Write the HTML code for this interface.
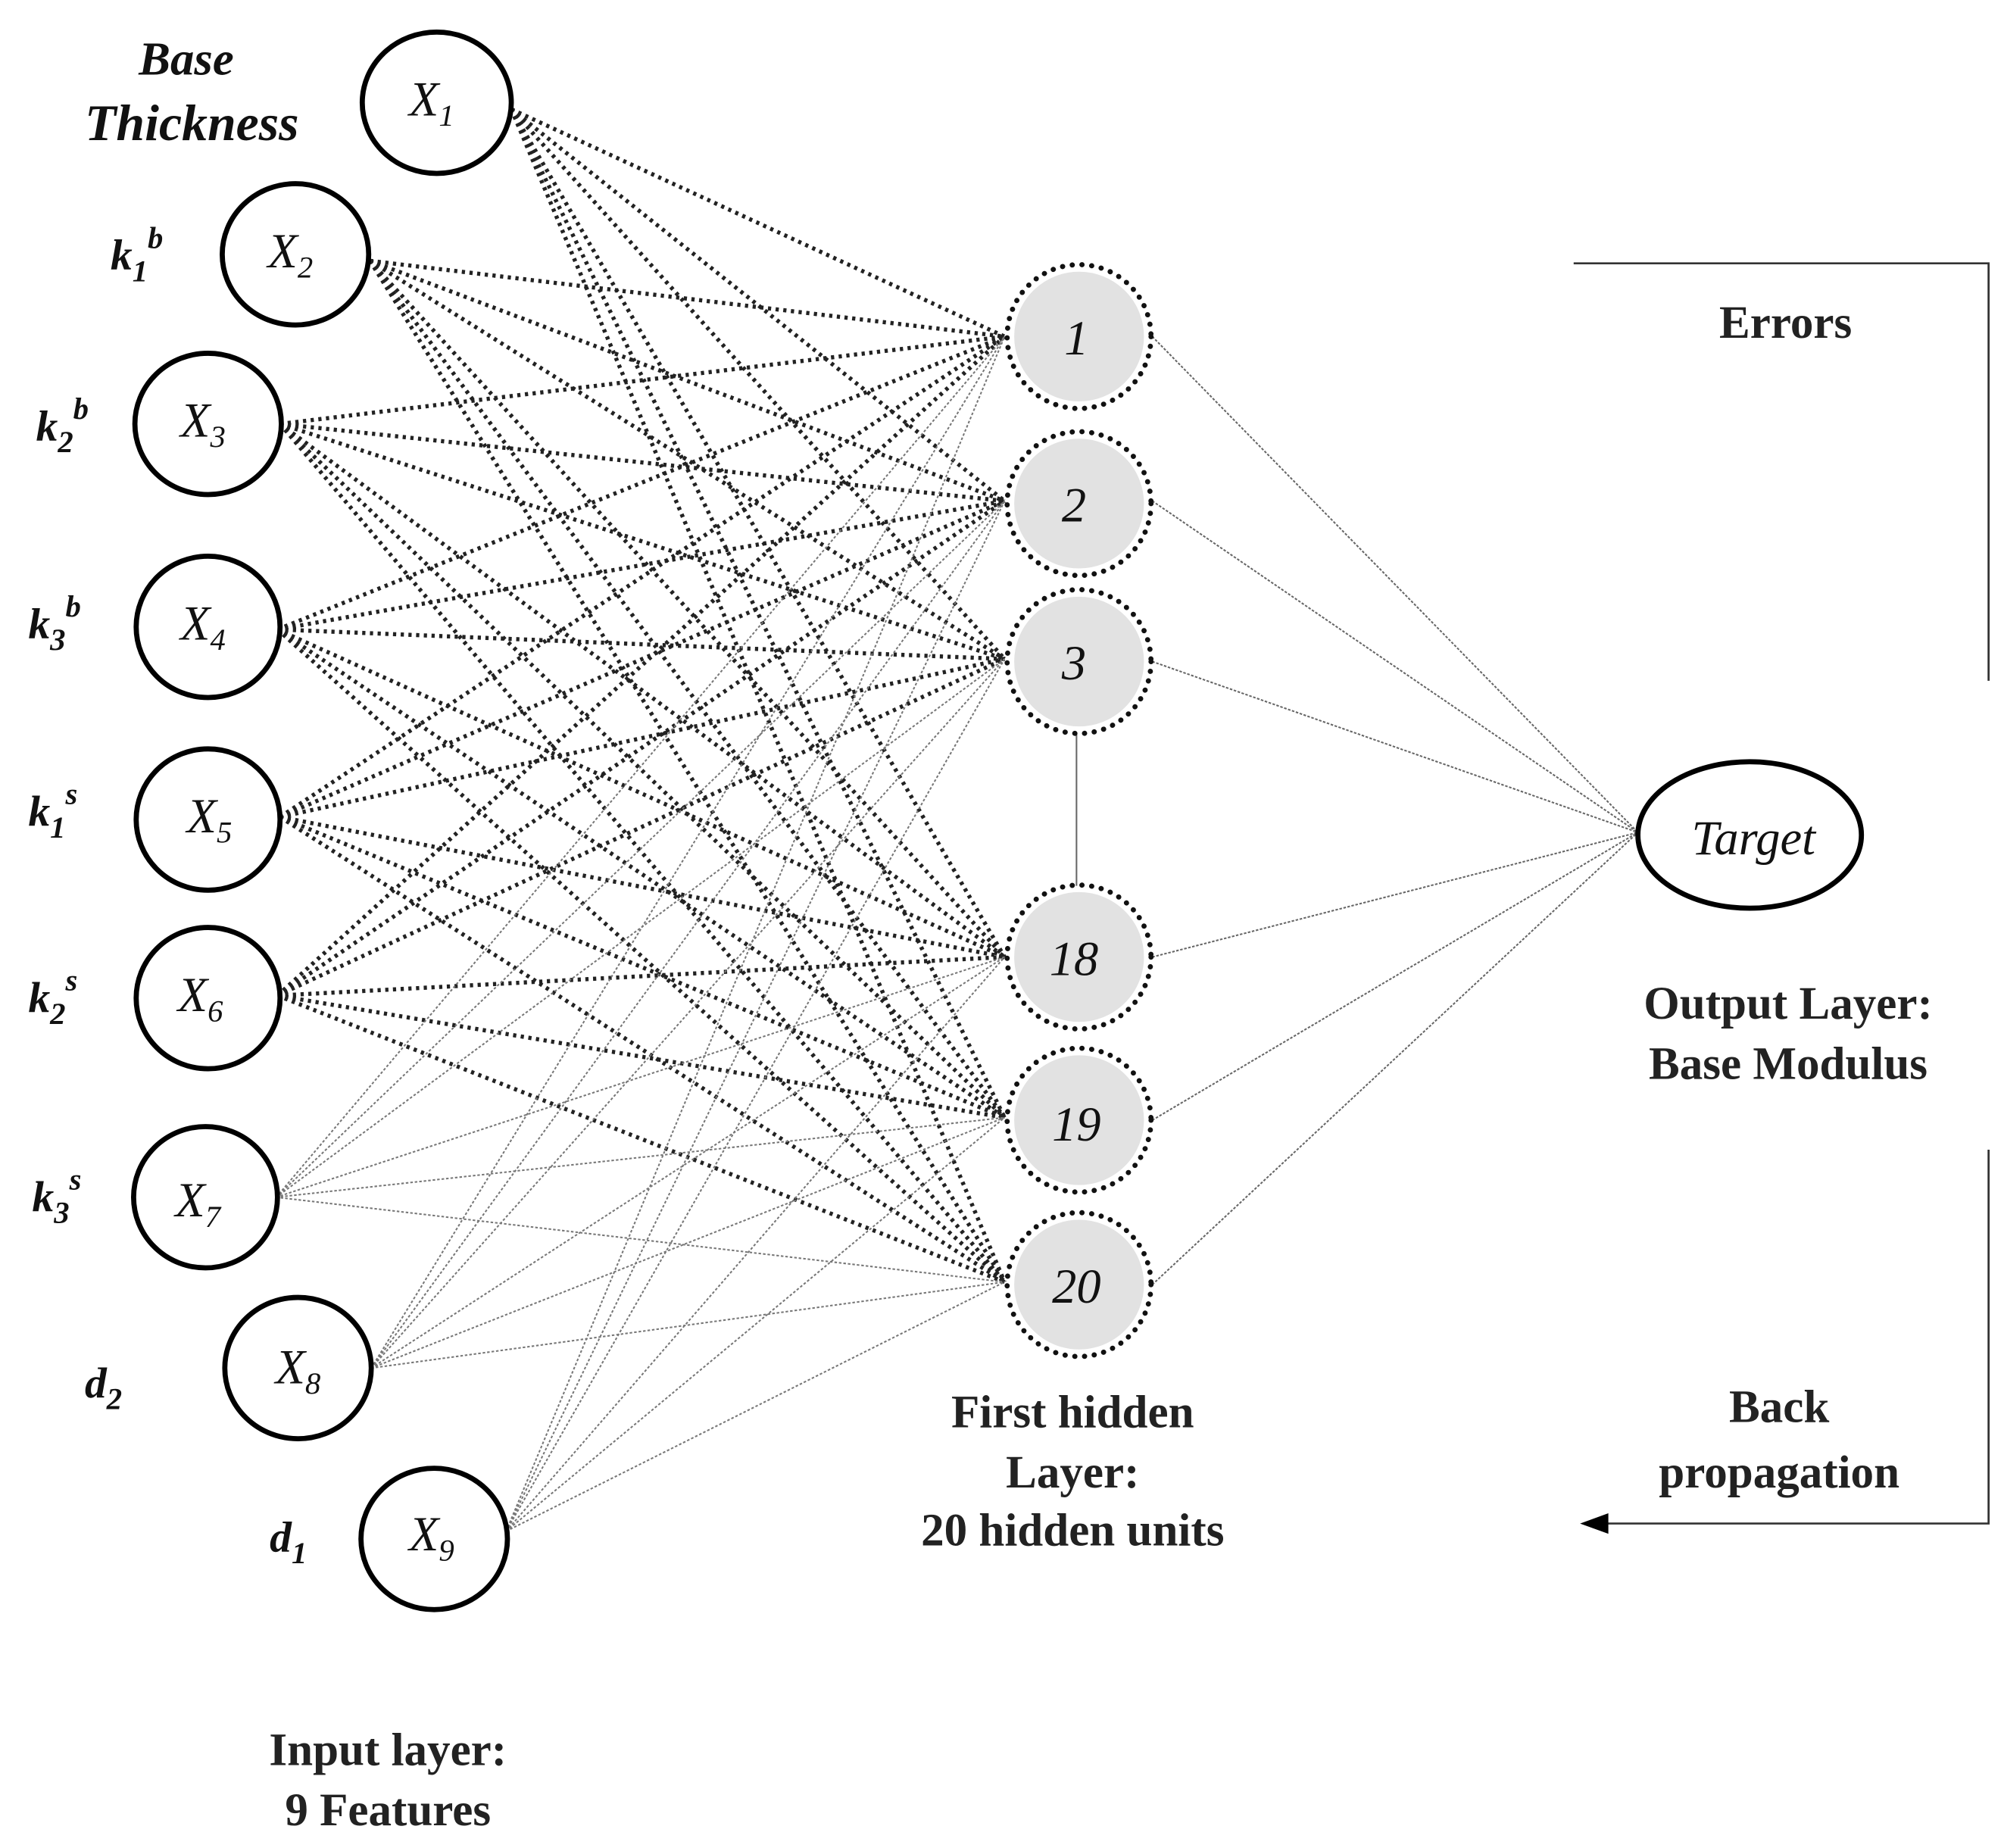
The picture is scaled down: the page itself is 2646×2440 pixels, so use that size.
<!DOCTYPE html>
<html><head><meta charset="utf-8"><style>
html,body{margin:0;padding:0;background:#fff;}
svg{display:block;}
.t{font-family:"Liberation Serif",serif;font-weight:bold;font-size:36px;fill:#222;text-anchor:middle;}
.lab{font-family:"Liberation Serif",serif;font-weight:bold;font-style:italic;font-size:34px;fill:#111;}
.n{font-family:"Liberation Serif",serif;font-style:italic;font-size:38px;fill:#111;text-anchor:middle;}
.thick line{stroke:#222;stroke-width:3.2;stroke-dasharray:2.5 3.5;}
.thin line{stroke:#777;stroke-width:1.2;stroke-dasharray:2 1.5;}
.out line{stroke:#666;stroke-width:1.2;stroke-dasharray:2 1.2;}
.in ellipse{fill:#fff;stroke:#000;stroke-width:4;}
.hid circle{fill:#e2e2e2;stroke:#fff;stroke-width:5;}
.hid circle.b{fill:none;stroke:#111;stroke-width:4;stroke-dasharray:0.1 7.5;stroke-linecap:round;}
</style></head><body>
<svg width="2646" height="2440" viewBox="0 0 1560 1438.6" preserveAspectRatio="none" xmlns="http://www.w3.org/2000/svg">
<g class="thick">
<line x1="398" y1="85" x2="782" y2="262"/><line x1="398" y1="85" x2="782" y2="390"/><line x1="398" y1="85" x2="782" y2="513"/><line x1="398" y1="85" x2="782" y2="745"/><line x1="398" y1="85" x2="782" y2="870"/><line x1="398" y1="85" x2="782" y2="998"/>
<line x1="288" y1="203" x2="782" y2="262"/><line x1="288" y1="203" x2="782" y2="390"/><line x1="288" y1="203" x2="782" y2="513"/><line x1="288" y1="203" x2="782" y2="745"/><line x1="288" y1="203" x2="782" y2="870"/><line x1="288" y1="203" x2="782" y2="998"/>
<line x1="218" y1="330" x2="782" y2="262"/><line x1="218" y1="330" x2="782" y2="390"/><line x1="218" y1="330" x2="782" y2="513"/><line x1="218" y1="330" x2="782" y2="745"/><line x1="218" y1="330" x2="782" y2="870"/><line x1="218" y1="330" x2="782" y2="998"/>
<line x1="216" y1="490" x2="782" y2="262"/><line x1="216" y1="490" x2="782" y2="390"/><line x1="216" y1="490" x2="782" y2="513"/><line x1="216" y1="490" x2="782" y2="745"/><line x1="216" y1="490" x2="782" y2="870"/><line x1="216" y1="490" x2="782" y2="998"/>
<line x1="218" y1="636" x2="782" y2="262"/><line x1="218" y1="636" x2="782" y2="390"/><line x1="218" y1="636" x2="782" y2="513"/><line x1="218" y1="636" x2="782" y2="745"/><line x1="218" y1="636" x2="782" y2="870"/><line x1="218" y1="636" x2="782" y2="998"/>
<line x1="216" y1="775" x2="782" y2="262"/><line x1="216" y1="775" x2="782" y2="390"/><line x1="216" y1="775" x2="782" y2="513"/><line x1="216" y1="775" x2="782" y2="745"/><line x1="216" y1="775" x2="782" y2="870"/><line x1="216" y1="775" x2="782" y2="998"/>
</g>
<g class="thin">
<line x1="215" y1="932" x2="782" y2="262"/><line x1="215" y1="932" x2="782" y2="390"/><line x1="215" y1="932" x2="782" y2="513"/><line x1="215" y1="932" x2="782" y2="745"/><line x1="215" y1="932" x2="782" y2="870"/><line x1="215" y1="932" x2="782" y2="998"/>
<line x1="289" y1="1065" x2="782" y2="262"/><line x1="289" y1="1065" x2="782" y2="390"/><line x1="289" y1="1065" x2="782" y2="513"/><line x1="289" y1="1065" x2="782" y2="745"/><line x1="289" y1="1065" x2="782" y2="870"/><line x1="289" y1="1065" x2="782" y2="998"/>
<line x1="394" y1="1192" x2="782" y2="262"/><line x1="394" y1="1192" x2="782" y2="390"/><line x1="394" y1="1192" x2="782" y2="513"/><line x1="394" y1="1192" x2="782" y2="745"/><line x1="394" y1="1192" x2="782" y2="870"/><line x1="394" y1="1192" x2="782" y2="998"/>
</g>
<g class="out">
<line x1="897" y1="262" x2="1275" y2="648"/><line x1="897" y1="390" x2="1275" y2="648"/><line x1="897" y1="515" x2="1275" y2="648"/><line x1="897" y1="745" x2="1275" y2="648"/><line x1="897" y1="872" x2="1275" y2="648"/><line x1="897" y1="1000" x2="1275" y2="648"/>
<line x1="838" y1="568" x2="838" y2="692" style="stroke-dasharray:none"/>
</g>
<g class="in">
<ellipse cx="340" cy="80" rx="58" ry="55"/><ellipse cx="230" cy="198" rx="57" ry="55"/><ellipse cx="162" cy="330" rx="57" ry="55"/><ellipse cx="162" cy="488" rx="56" ry="55"/><ellipse cx="162" cy="638" rx="56" ry="55"/><ellipse cx="162" cy="777" rx="56" ry="55"/><ellipse cx="160" cy="932" rx="56" ry="55"/><ellipse cx="232" cy="1065" rx="57" ry="55"/><ellipse cx="338" cy="1198" rx="57" ry="55"/>
<ellipse cx="1362" cy="650" rx="87" ry="57"/>
</g>
<g class="hid">
<circle cx="840" cy="262" r="53"/><circle class="b" cx="840" cy="262" r="56"/>
<circle cx="840" cy="392" r="53"/><circle class="b" cx="840" cy="392" r="56"/>
<circle cx="840" cy="515" r="53"/><circle class="b" cx="840" cy="515" r="56"/>
<circle cx="840" cy="745" r="53"/><circle class="b" cx="840" cy="745" r="56"/>
<circle cx="840" cy="872" r="53"/><circle class="b" cx="840" cy="872" r="56"/>
<circle cx="840" cy="1000" r="53"/><circle class="b" cx="840" cy="1000" r="56"/>
</g>
<g class="n">
<text x="336" y="90">X<tspan font-size="24" dy="8">1</tspan></text>
<text x="226" y="208">X<tspan font-size="24" dy="8">2</tspan></text>
<text x="158" y="340">X<tspan font-size="24" dy="8">3</tspan></text>
<text x="158" y="498">X<tspan font-size="24" dy="8">4</tspan></text>
<text x="163" y="648">X<tspan font-size="24" dy="8">5</tspan></text>
<text x="156" y="787">X<tspan font-size="24" dy="8">6</tspan></text>
<text x="154" y="947">X<tspan font-size="24" dy="8">7</tspan></text>
<text x="232" y="1077">X<tspan font-size="24" dy="8">8</tspan></text>
<text x="336" y="1207">X<tspan font-size="24" dy="8">9</tspan></text>
<text x="838" y="276">1</text><text x="836" y="406">2</text><text x="836" y="529">3</text>
<text x="836" y="759">18</text><text x="838" y="888">19</text><text x="838" y="1014">20</text>
<text x="1365" y="665">Target</text>
</g>
<g class="lab" style="font-size:37px">
<text x="108" y="58">Base</text>
<text x="66" y="109" style="font-size:40px">Thickness</text>
</g>
<g class="lab">
<text x="86" y="210">k<tspan font-size="24" dy="9">1</tspan><tspan font-size="24" dy="-26">b</tspan></text>
<text x="28" y="343">k<tspan font-size="24" dy="9">2</tspan><tspan font-size="24" dy="-26">b</tspan></text>
<text x="22" y="497">k<tspan font-size="24" dy="9">3</tspan><tspan font-size="24" dy="-26">b</tspan></text>
<text x="22" y="643">k<tspan font-size="24" dy="9">1</tspan><tspan font-size="24" dy="-26">s</tspan></text>
<text x="22" y="788">k<tspan font-size="24" dy="9">2</tspan><tspan font-size="24" dy="-26">s</tspan></text>
<text x="25" y="943">k<tspan font-size="24" dy="9">3</tspan><tspan font-size="24" dy="-26">s</tspan></text>
<text x="66" y="1088">d<tspan font-size="24" dy="9">2</tspan></text>
<text x="210" y="1208">d<tspan font-size="24" dy="9">1</tspan></text>
</g>
<g class="t">
<text x="1390" y="263">Errors</text>
<text x="1392" y="793">Output  Layer:</text>
<text x="1392" y="840">Base Modulus</text>
<text x="1385" y="1107">Back</text>
<text x="1385" y="1158">propagation</text>
<text x="835" y="1111">First hidden</text>
<text x="835" y="1158">Layer:</text>
<text x="835" y="1203">20 hidden units</text>
<text x="302" y="1374">Input  layer:</text>
<text x="302" y="1421">9 Features</text>
</g>
<polyline points="1225,205 1548,205 1548,530" fill="none" stroke="#333" stroke-width="1.6"/>
<polyline points="1548,895 1548,1186 1245,1186" fill="none" stroke="#333" stroke-width="1.6"/>
<polygon points="1230,1186 1252,1178 1252,1194" fill="#000"/>
</svg>
</body></html>
